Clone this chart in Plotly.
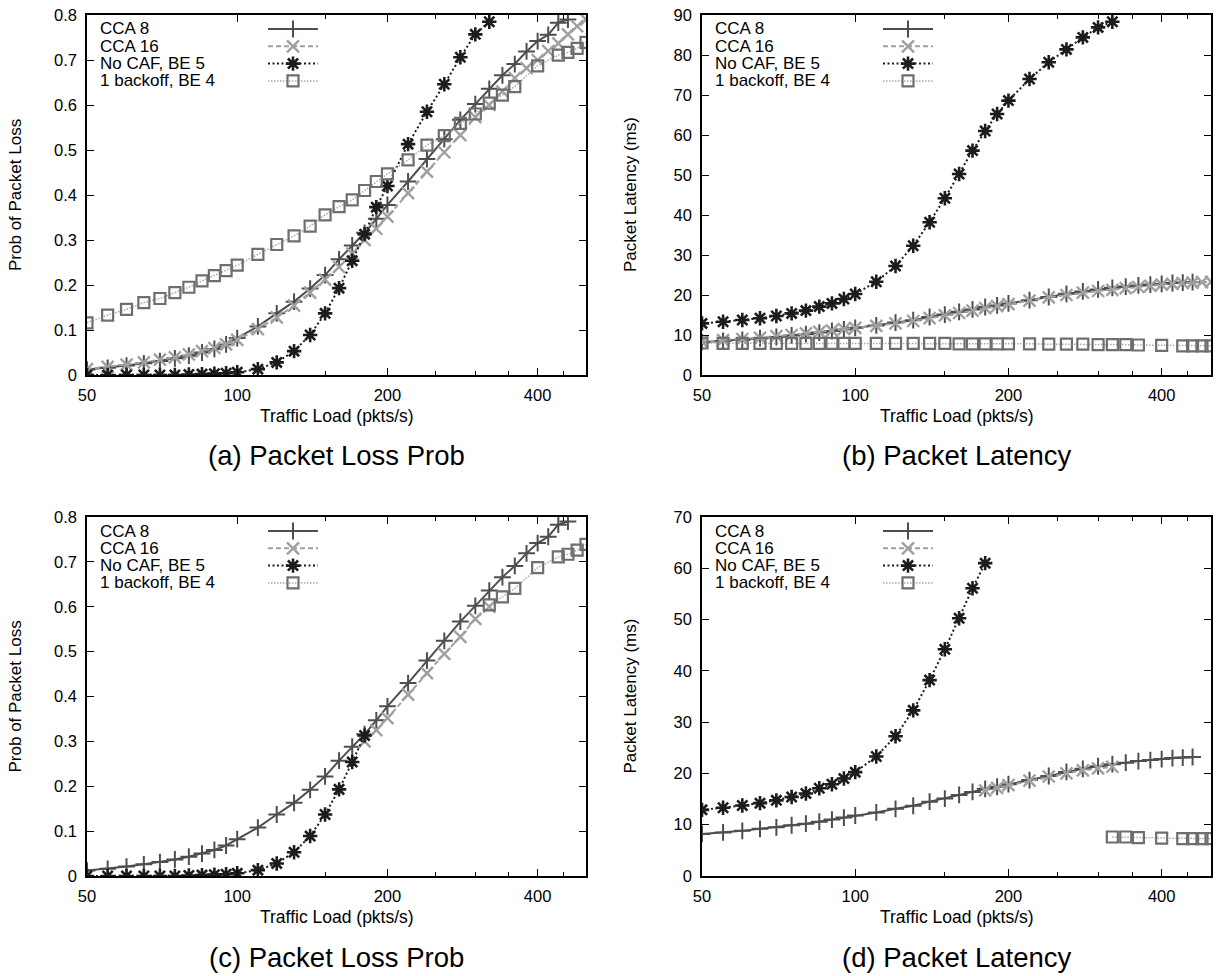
import plotly.graph_objects as go

# ---------------- data ----------------
load_cca8 = [50, 55, 60, 65, 70, 75, 80, 85, 90, 95, 100, 110, 120, 130, 140, 150, 160, 170, 180, 190,
             200, 220, 240, 260, 280, 300, 320, 340, 360, 380, 400, 420, 440, 460]
load_cca16 = [50, 55, 60, 65, 70, 75, 80, 85, 90, 95, 100, 110, 120, 130, 140, 150, 160, 170, 180, 190,
              200, 220, 240, 260, 280, 300, 320, 340, 360, 380, 400, 420, 440, 460, 480, 500]
load_nocaf = [50, 55, 60, 65, 70, 75, 80, 85, 90, 95, 100, 110, 120, 130, 140, 150, 160, 170, 180, 190,
              200, 220, 240, 260, 280, 300, 320]
load_backoff = [50, 55, 60, 65, 70, 75, 80, 85, 90, 95, 100, 110, 120, 130, 140, 150, 160, 170, 180, 190,
                200, 220, 240, 260, 280, 300, 320, 340, 360, 400, 440, 460, 480, 500]

loss_cca8 = [0.012, 0.016, 0.021, 0.026, 0.031, 0.037, 0.043, 0.050, 0.058, 0.068, 0.082,
             0.108, 0.137, 0.163, 0.192, 0.222, 0.257, 0.288, 0.316, 0.347, 0.378,
             0.430, 0.480, 0.524, 0.567, 0.602, 0.636, 0.666, 0.691, 0.719, 0.742, 0.756, 0.783, 0.790]
loss_cca16 = [0.013, 0.018, 0.023, 0.028, 0.034, 0.039, 0.046, 0.053, 0.060, 0.068, 0.078,
              0.102, 0.128, 0.154, 0.183, 0.212, 0.240, 0.270, 0.300, 0.325, 0.352,
              0.404, 0.452, 0.495, 0.533, 0.573, 0.600, 0.630, 0.660, 0.682, 0.700, 0.720, 0.737,
              0.757, 0.775, 0.790]
loss_nocaf = [0, 0, 0, 0, 0, 0, 0.001, 0.002, 0.003, 0.004, 0.006,
              0.013, 0.028, 0.053, 0.089, 0.137, 0.193, 0.254, 0.313, 0.373, 0.420,
              0.513, 0.585, 0.646, 0.706, 0.757, 0.785]
loss_backoff = [0.116, 0.133, 0.146, 0.161, 0.170, 0.183, 0.195, 0.209, 0.221, 0.232, 0.244,
                0.268, 0.290, 0.309, 0.331, 0.356, 0.374, 0.389, 0.410, 0.430, 0.447,
                0.478, 0.511, 0.532, 0.559, 0.580, 0.604, 0.622, 0.641,
                0.687, 0.711, 0.717, 0.726, 0.739]

lat_cca8 = [8.2, 8.5, 8.8, 9.2, 9.5, 9.9, 10.2, 10.6, 11.0, 11.4, 11.8,
            12.4, 13.1, 13.7, 14.5, 15.1, 15.8, 16.4, 17.0, 17.4, 17.9,
            18.7, 19.5, 20.3, 20.9, 21.4, 21.8, 22.1, 22.4, 22.6, 22.8, 23.0, 23.1, 23.2]
lat_cca16 = [8.3, 8.7, 9.0, 9.3, 9.7, 10.0, 10.4, 10.8, 11.1, 11.5, 11.8,
             12.3, 12.9, 13.5, 14.2, 14.9, 15.5, 16.1, 16.7, 17.2, 17.7,
             18.6, 19.4, 20.0, 20.6, 21.0, 21.3, 21.7, 22.0, 22.3, 22.6, 22.8, 23.0, 23.1, 23.2, 23.3]
lat_nocaf = [12.9, 13.3, 13.75, 14.2, 14.75, 15.4, 16.1, 17.1, 17.9, 19.0, 20.25,
             23.3, 27.25, 32.3, 38.2, 44.2, 50.25, 56.1, 61.0, 65.25, 68.6,
             74.0, 78.2, 81.4, 84.4, 86.9, 88.3]
lat_backoff = [8.0, 7.9, 7.9, 7.9, 7.9, 7.9, 7.9, 7.9, 7.9, 7.9, 7.9,
               7.9, 7.9, 7.9, 7.9, 7.9, 7.8, 7.8, 7.8, 7.8, 7.8,
               7.8, 7.7, 7.7, 7.7, 7.6, 7.6, 7.6, 7.5,
               7.4, 7.3, 7.3, 7.3, 7.3]

# load ranges shown in the lower row (c, d)
lower_ranges = {"CCA 8": (50, 500), "CCA 16": (180, 320),
                "No CAF, BE 5": (50, 180), "1 backoff, BE 4": (320, 500)}

series_names = ["CCA 8", "CCA 16", "No CAF, BE 5", "1 backoff, BE 4"]
x_ticks = [50, 100, 200, 400]
x_minor = [150, 250, 300, 350, 450]
captions = ["(a) Packet Loss Prob", "(b) Packet Latency", "(c) Packet Loss Prob", "(d) Packet Latency"]
y_titles = ["Prob of Packet Loss", "Packet Latency (ms)", "Prob of Packet Loss", "Packet Latency (ms)"]
x_title = "Traffic Load (pkts/s)"

# ---------------- styles ----------------
styles = {
    "CCA 8": dict(line=dict(color="#4e4e4e", width=2, dash="solid"),
                  marker=dict(symbol="cross-thin-open", size=12, color="#4e4e4e",
                              line=dict(color="#4e4e4e", width=2))),
    "CCA 16": dict(line=dict(color="#a0a0a0", width=2, dash="5px,3px"),
                   marker=dict(symbol="x-thin-open", size=12, color="#a0a0a0",
                               line=dict(color="#a0a0a0", width=2.4))),
    "No CAF, BE 5": dict(line=dict(color="#1c1c1c", width=2, dash="2px,2.5px"),
                         marker=dict(symbol="asterisk-open", size=12, color="#1c1c1c",
                                     line=dict(color="#1c1c1c", width=2.6))),
    "1 backoff, BE 4": dict(line=dict(color="#a8a8a8", width=1.5, dash="1.5px,1.5px"),
                            marker=dict(symbol="square-open", size=11, color="#6e6e6e",
                                        line=dict(color="#6e6e6e", width=2.2))),
}

W, H = 1216, 976
def fx(p):
    return p / W
def fy(p):
    return 1 - p / H

# panel boxes in screen pixels: (left, right, top, bottom)
boxes = [(87, 586, 15, 375), (702, 1211, 15, 375), (87, 586, 517, 876), (702, 1211, 517, 876)]
y_ranges = [[0, 0.8], [0, 90], [0, 0.8], [0, 70]]

fig = go.Figure()

def sel(xs, ys, rng):
    lo, hi = rng
    pairs = [(a, b) for a, b in zip(xs, ys) if lo <= a <= hi]
    return [p[0] for p in pairs], [p[1] for p in pairs]

loss_data = {"CCA 8": (load_cca8, loss_cca8), "CCA 16": (load_cca16, loss_cca16),
             "No CAF, BE 5": (load_nocaf, loss_nocaf), "1 backoff, BE 4": (load_backoff, loss_backoff)}
lat_data = {"CCA 8": (load_cca8, lat_cca8), "CCA 16": (load_cca16, lat_cca16),
            "No CAF, BE 5": (load_nocaf, lat_nocaf), "1 backoff, BE 4": (load_backoff, lat_backoff)}

font_main = "Liberation Sans, Arial, Helvetica, sans-serif"
layout = dict(width=W, height=H, paper_bgcolor="white", plot_bgcolor="white",
              margin=dict(l=0, r=0, t=0, b=0, autoexpand=False), showlegend=True,
              font=dict(family=font_main, size=16, color="black"))
annotations = []
legend_idx = 0
for i, (l, r, t, b) in enumerate(boxes):
    sfx = "" if i == 0 else str(i + 1)
    data = loss_data if i in (0, 2) else lat_data
    for k, name in enumerate(series_names):
        xs, ys = data[name]
        if i >= 2:
            xs, ys = sel(xs, ys, lower_ranges[name])
        st = styles[name]
        legend_idx += 1
        lsfx = "" if legend_idx == 1 else str(legend_idx)
        fig.add_trace(go.Scatter(
            x=xs, y=ys, mode="lines+markers", name="",
            line=st["line"], marker=st["marker"],
            xaxis="x" + sfx, yaxis="y" + sfx,
            legend="legend" + lsfx, showlegend=True, cliponaxis=True,
            hovertemplate=name + ": %{x}, %{y}<extra></extra>"))
        row_y = t + 14 + 17.3 * k
        # legend key for this series, placed in its row at the right of the text
        layout["legend" + lsfx] = dict(
            x=fx(l + 176), y=fy(row_y), xanchor="left", yanchor="middle",
            bgcolor="rgba(0,0,0,0)", borderwidth=0, itemwidth=50,
            font=dict(size=10, family=font_main), tracegroupgap=0,
            itemclick=False, itemdoubleclick=False)
        annotations.append(dict(text=name, x=fx(l + 11), y=fy(row_y),
                                xref="paper", yref="paper", xanchor="left", yanchor="middle",
                                showarrow=False, font=dict(size=17, family=font_main)))

    layout["xaxis" + sfx] = dict(
        domain=[fx(l), fx(r)], anchor="y" + sfx, type="log", automargin=False,
        range=[1.69897, 2.69897], tickvals=x_ticks, ticktext=[str(v) for v in x_ticks],
        ticks="inside", ticklen=7, tickwidth=1.3, tickcolor="black",
        minor=dict(tickvals=x_minor, ticks="inside", ticklen=4, tickwidth=1.2, tickcolor="black"),
        showline=True, linecolor="black", linewidth=1.6, mirror="allticks",
        showgrid=False, zeroline=False, ticklabelstandoff=4,
        tickfont=dict(size=16.5, family=font_main))
    layout["yaxis" + sfx] = dict(
        domain=[fy(b), fy(t)], anchor="x" + sfx, range=y_ranges[i], automargin=False,
        dtick=0.1 if i in (0, 2) else 10, tick0=0,
        ticks="inside", ticklen=7, tickwidth=1.3, tickcolor="black",
        showline=True, linecolor="black", linewidth=1.6, mirror="allticks",
        showgrid=False, zeroline=False, ticklabelstandoff=5,
        tickfont=dict(size=16.5, family=font_main))
    cx = (l + r) / 2
    annotations.append(dict(text=x_title, x=fx(cx), y=fy(b + 41), xref="paper", yref="paper",
                            xanchor="center", yanchor="middle", showarrow=False,
                            font=dict(size=17.5, family=font_main)))
    annotations.append(dict(text=captions[i], x=fx(cx), y=fy(b + 81), xref="paper", yref="paper",
                            xanchor="center", yanchor="middle", showarrow=False,
                            font=dict(size=27.5, family=font_main)))
    annotations.append(dict(text=y_titles[i], x=fx(l - 72), y=fy((t + b) / 2), xref="paper",
                            yref="paper", xanchor="center", yanchor="middle", showarrow=False,
                            textangle=-90, font=dict(size=17, family=font_main)))
layout["annotations"] = annotations
fig.update_layout(**layout)

# remove the browser's default page margin so the 1216x976 figure fills the window exactly
fig.write_html("out.html",
               config={"displayModeBar": False},
               post_script="document.documentElement.style.margin='0';"
                           "document.body.style.margin='0';"
                           "document.body.style.overflow='hidden';")
